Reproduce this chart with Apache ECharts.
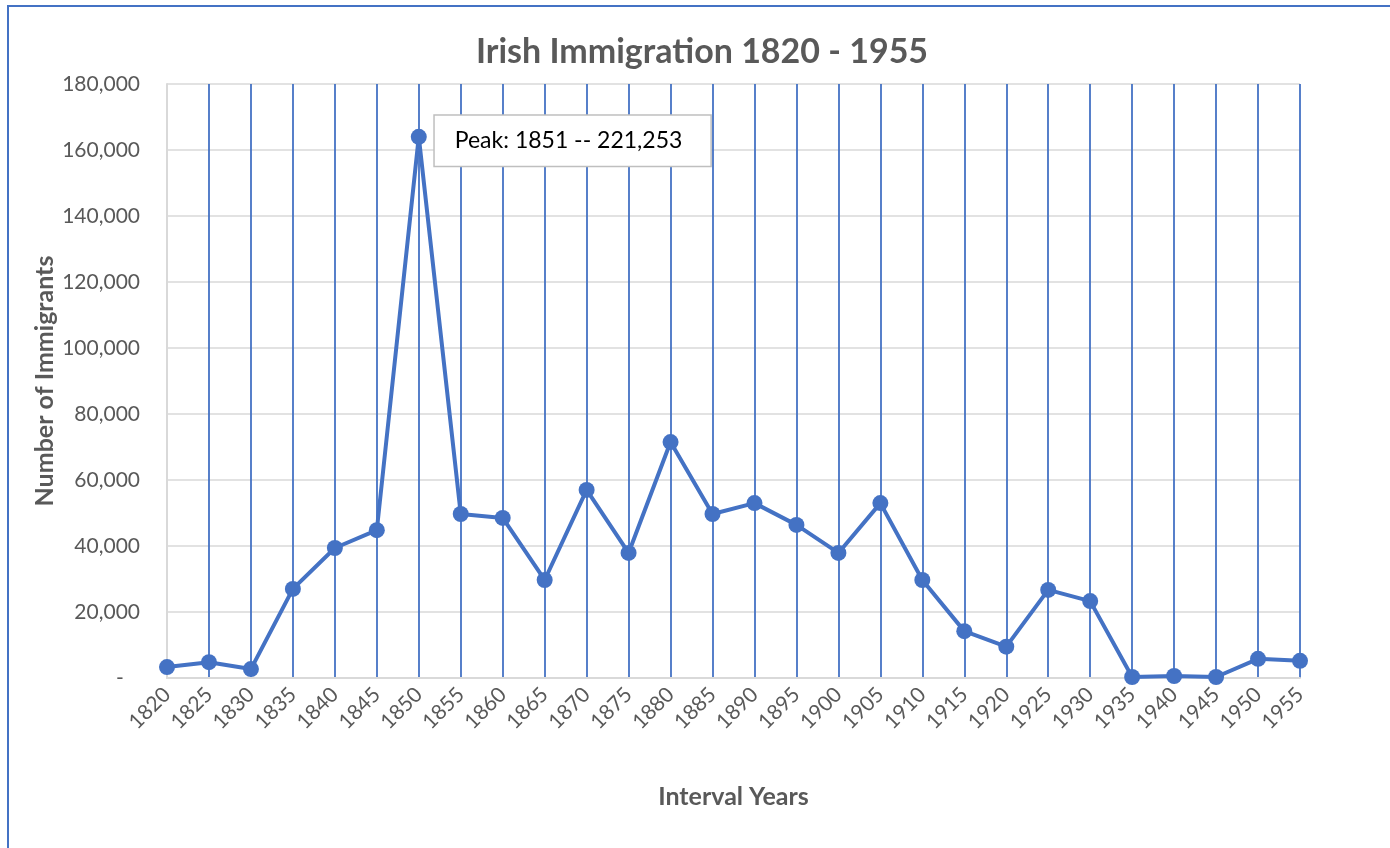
<!DOCTYPE html>
<html>
<head>
<meta charset="utf-8">
<title>Irish Immigration 1820 - 1955</title>
<script src="https://cdn.jsdelivr.net/npm/echarts@6/dist/echarts.min.js"></script>
<style>
  html, body { margin: 0; padding: 0; background: #fff; }
  #chart { width: 1390px; height: 848px; }
</style>
</head>
<body>
<div id="chart"></div>
<script>
// interval years (x axis)
var years = ['1820','1825','1830','1835','1840','1845','1850','1855','1860','1865',
             '1870','1875','1880','1885','1890','1895','1900','1905','1910','1915',
             '1920','1925','1930','1935','1940','1945','1950','1955'];
// number of immigrants
var immigrants = [3300, 4800, 2700, 27000, 39400, 44800, 164000, 49700, 48500, 29700,
                  57000, 37900, 71500, 49700, 53000, 46400, 37900, 53000, 29700, 14200,
                  9500, 26700, 23300, 300, 600, 300, 5800, 5200];
var peakIndex = 6;
var peakText = 'Peak: 1851 -- 221,253';

var blue = '#4472C4';
var gray = '#595959';
var font = 'Lato, "Open Sans", sans-serif';

var chart = echarts.init(document.getElementById('chart'));

var points = immigrants.map(function (v, i) {
  if (i !== peakIndex) return v;
  return {
    value: v,
    label: {
      show: true,
      position: 'right',
      distance: 8,
      formatter: peakText,
      color: '#000',
      fontFamily: font,
      fontSize: 23,
      backgroundColor: '#fff',
      borderColor: '#bfbfbf',
      borderWidth: 1.5,
      padding: [14, 28, 13, 20],
      offset: [0, 4]
    }
  };
});

chart.setOption({
  animation: false,
  textStyle: { fontFamily: font },
  title: {
    text: 'Irish Immigration 1820 - 1955',
    left: 697,
    textAlign: 'center',
    top: 30,
    textStyle: { fontFamily: font, fontSize: 34, fontWeight: 'bold', color: gray }
  },
  grid: { left: 167, right: 90, top: 84, bottom: 170 },
  graphic: [{
    type: 'rect',
    shape: { x: 8, y: 6, width: 1500, height: 1000 },
    style: { fill: 'none', stroke: blue, lineWidth: 2 },
    silent: true
  }],
  xAxis: {
    type: 'category',
    data: years,
    boundaryGap: false,
    name: 'Interval Years',
    nameLocation: 'middle',
    nameGap: 106,
    nameMoveOverlap: false,
    nameTextStyle: { fontFamily: font, fontSize: 25, fontWeight: 'bold', color: gray },
    axisLine: { lineStyle: { color: '#d9d9d9', width: 2 } },
    axisTick: { show: false },
    axisLabel: { rotate: 45, margin: 13, fontSize: 21, color: gray, fontFamily: font },
    splitLine: { show: true, lineStyle: { color: blue, width: 1.8 } }
  },
  yAxis: {
    type: 'value',
    min: 0,
    max: 180000,
    interval: 20000,
    name: 'Number of Immigrants',
    nameLocation: 'middle',
    nameGap: 110,
    nameMoveOverlap: false,
    nameTextStyle: { fontFamily: font, fontSize: 25, fontWeight: 'bold', color: gray },
    axisLine: { show: true, lineStyle: { color: '#d9d9d9', width: 2 } },
    axisTick: { show: false },
    axisLabel: {
      margin: 27,
      fontSize: 21,
      color: gray,
      fontFamily: font,
      formatter: function (v) { return v === 0 ? '-   ' : v.toLocaleString('en-US'); }
    },
    splitLine: { lineStyle: { color: '#d9d9d9', width: 1.5 } }
  },
  series: [{
    type: 'line',
    data: points,
    color: blue,
    lineStyle: { width: 4 },
    symbol: 'circle',
    symbolSize: 16,
    itemStyle: { color: blue }
  }]
});
</script>
</body>
</html>
